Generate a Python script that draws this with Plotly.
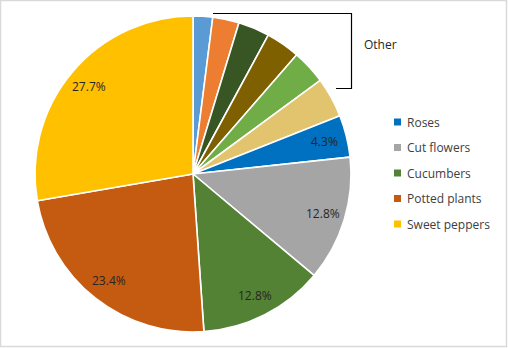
import math
import plotly.graph_objects as go

# Share of greenhouse area by crop (%), clockwise from 12 o'clock
categories = ["Other 1", "Other 2", "Other 3", "Other 4", "Other 5", "Other 6",
              "Roses", "Cut flowers", "Cucumbers", "Potted plants", "Sweet peppers"]
values = [2.0, 2.7, 3.2, 3.5, 3.5, 4.1, 4.3, 12.8, 12.8, 23.4, 27.7]
colors = ["#5B9BD5", "#ED7D31", "#375623", "#7F6000", "#70AD47", "#E2C46E",
          "#0070C0", "#A5A5A5", "#548235", "#C55A11", "#FFC000"]
legend_items = ["Roses", "Cut flowers", "Cucumbers", "Potted plants", "Sweet peppers"]
other_group = categories[:6]

W, H = 508, 348
cx, cy, R = 193, 174, 158  # pie centre and radius in pixels

dom_x = [(cx - R) / W, (cx + R) / W]
dom_y = [(H - cy - R) / H, (H - cy + R) / H]

fig = go.Figure(go.Pie(
    labels=categories,
    values=values,
    sort=False,
    direction="clockwise",
    rotation=0,
    marker=dict(colors=colors, line=dict(color="white", width=1.6)),
    textinfo="none",
    hoverinfo="label+value",
    showlegend=False,
    domain=dict(x=dom_x, y=dom_y),
))

annotations = []
shapes = []

# Percentage labels near the outer edge of the named slices
total = sum(values)
cum = 0.0
for name, v in zip(categories, values):
    mid = (cum + v / 2) / total * 2 * math.pi
    cum += v
    if name in other_group:
        continue
    r = 0.86 * R
    px = cx + r * math.sin(mid)
    py = cy - r * math.cos(mid)
    annotations.append(dict(
        x=px / W, y=1 - py / H, xref="paper", yref="paper",
        text=f"{v:.1f}%", showarrow=False,
        font=dict(family="Open Sans", size=12, color="#262626"),
        xanchor="center", yanchor="middle",
    ))

# Legend: small square swatches with labels
color_of = dict(zip(categories, colors))
for i, name in enumerate(legend_items):
    ly = 122 + i * 25.5
    shapes.append(dict(
        type="rect", xref="paper", yref="paper",
        x0=394 / W, x1=401 / W, y0=1 - (ly + 3.5) / H, y1=1 - (ly - 3.5) / H,
        fillcolor=color_of[name], line=dict(width=0),
    ))
    annotations.append(dict(
        x=405 / W, y=1 - ly / H, xref="paper", yref="paper",
        text=name, showarrow=False, xanchor="left", yanchor="middle",
        font=dict(family="Open Sans", size=12, color="#404040"),
    ))

# Bracket grouping the small slices as "Other"
bx0, bx1, by0, by1, bxe = 213, 351.5, 13.5, 88.5, 336
shapes.append(dict(
    type="path", xref="paper", yref="paper",
    path=(f"M {bx0 / W},{1 - by0 / H} L {bx1 / W},{1 - by0 / H} "
          f"L {bx1 / W},{1 - by1 / H} L {bxe / W},{1 - by1 / H}"),
    line=dict(color="#000000", width=1.2),
))
annotations.append(dict(
    x=362 / W, y=1 - 45 / H, xref="paper", yref="paper",
    text="Other", showarrow=False, xanchor="left", yanchor="middle",
    font=dict(family="Open Sans", size=12, color="#262626"),
))

# Thin frame round the chart area
shapes.append(dict(
    type="rect", xref="paper", yref="paper",
    x0=0.5 / W, x1=1 - 1.5 / W, y0=1.5 / H, y1=1 - 0.5 / H,
    line=dict(color="#D9D9D9", width=1.5), fillcolor="rgba(0,0,0,0)",
))

fig.update_layout(
    width=W, height=H,
    margin=dict(l=0, r=0, t=0, b=0),
    paper_bgcolor="white",
    plot_bgcolor="white",
    annotations=annotations,
    shapes=shapes,
)

fig.write_html("out.html")
